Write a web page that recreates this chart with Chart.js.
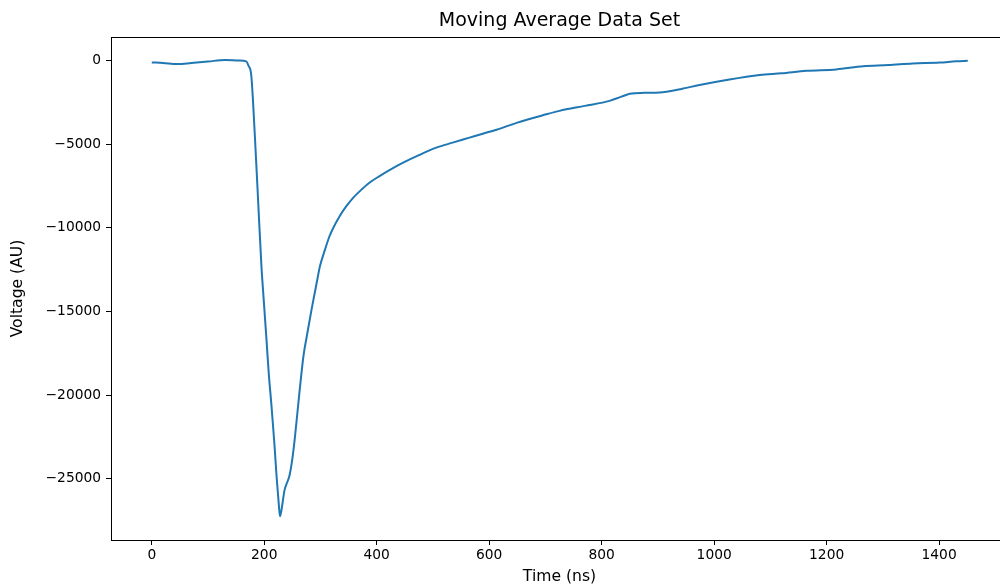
<!DOCTYPE html>
<html>
<head>
<meta charset="utf-8">
<title>Moving Average Data Set</title>
<script src="https://cdn.jsdelivr.net/npm/chart.js@4/dist/chart.umd.min.js"></script>
<style>
  html, body { margin: 0; padding: 0; background: #fff; overflow: hidden; }
  #wrap { width: 1010px; height: 587px; }
</style>
</head>
<body>
<div id="wrap"><canvas id="myChart"></canvas></div>
<script>
// time axis of the averaged trace (ns)
var timeNs = [0, 20, 45, 70, 100, 130, 155, 168, 172, 177, 183, 189, 195, 198, 204, 208, 213, 218, 222, 226,
    228, 231, 236, 241, 245, 250, 254, 263, 270, 275, 284, 294, 299, 308, 316, 322, 334, 346, 358, 370,
    387, 405, 425, 447, 475, 506, 535, 565, 590, 613, 650, 700, 725, 770, 814, 835, 850, 875, 903, 940,
    974, 1022, 1081, 1120, 1164, 1217, 1265, 1310, 1353, 1401, 1430, 1451];

// averaged voltage (AU)
var voltage = [-100, -130, -200, -140, -50, 50, 10, -40, -300, -900, -4300, -8300, -12300, -13800, -16700, -18700, -20700, -22900, -24900, -26600,
    -27250, -26800, -25700, -25200, -24800, -23800, -22700, -19700, -17600, -16600, -14900, -13150, -12300, -11300, -10500, -10050, -9300, -8700, -8200, -7800,
    -7300, -6900, -6500, -6100, -5650, -5200, -4900, -4600, -4350, -4130, -3700, -3220, -3000, -2700, -2400, -2150, -1980, -1920, -1900, -1700,
    -1450, -1150, -850, -750, -600, -520, -330, -260, -160, -110, -30, 0];

var xTicks = [0, 200, 400, 600, 800, 1000, 1200, 1400];
var yTicks = [-25000, -20000, -15000, -10000, -5000, 0];

var tickFont = { family: 'DejaVu Sans', size: 13.8 };
var labelFont = { family: 'DejaVu Sans', size: 15.6 };

// matplotlib style box around the plot area
var frame = {
    id: 'frame',
    afterDraw: function (chart) {
        var a = chart.chartArea, ctx = chart.ctx;
        ctx.save();
        ctx.strokeStyle = '#000';
        ctx.lineWidth = 1;
        ctx.strokeRect(Math.round(a.left) + 0.5, Math.round(a.top) + 0.5, a.right - a.left, a.bottom - a.top);
        ctx.restore();
    }
};

function minusLabel(v) {
    return v < 0 ? '\u2212' + Math.abs(v) : String(v);
}

function renderChart(xs, ys) {
    var ctx = document.getElementById("myChart").getContext('2d');
    var pts = xs.map(function (t, i) { return { x: t, y: ys[i] }; });
    var myChart = new Chart(ctx, {
        type: 'line',
        data: {
            datasets: [{
                data: pts,
                borderColor: '#1f77b4',
                borderWidth: 2,
                pointRadius: 0,
                cubicInterpolationMode: 'monotone',
                fill: false
            }]
        },
        options: {
            responsive: true,
            maintainAspectRatio: false,
            devicePixelRatio: 1,
            animation: false,
            layout: { padding: { left: 0, right: 2, top: 0, bottom: 0 } },
            plugins: {
                legend: { display: false },
                tooltip: { enabled: false },
                title: {
                    display: true,
                    text: 'Moving Average Data Set',
                    fullSize: false,
                    color: '#000',
                    font: { family: 'DejaVu Sans', size: 19, weight: 'normal' },
                    padding: { top: 9.6, bottom: 4.6 }
                }
            },
            scales: {
                x: {
                    type: 'linear',
                    min: -72.5,
                    max: 1522.5,
                    afterFit: function (s) { s.height = 47; },
                    afterBuildTicks: function (s) { s.ticks = xTicks.map(function (v) { return { value: v }; }); },
                    grid: { drawOnChartArea: false, drawTicks: true, tickLength: 5, tickColor: '#000', tickWidth: 1 },
                    border: { display: true, color: '#000', width: 1 },
                    ticks: { color: '#000', font: tickFont, padding: 2, maxRotation: 0, autoSkip: false, callback: minusLabel },
                    title: { display: true, text: 'Time (ns)', color: '#000', font: labelFont, padding: { top: 0, bottom: 0.6 } }
                },
                y: {
                    type: 'linear',
                    min: -28670,
                    max: 1420,
                    afterFit: function (s) { s.width = 111; },
                    afterBuildTicks: function (s) { s.ticks = yTicks.map(function (v) { return { value: v }; }); },
                    grid: { drawOnChartArea: false, drawTicks: true, tickLength: 5, tickColor: '#000', tickWidth: 1 },
                    border: { display: true, color: '#000', width: 1 },
                    ticks: { color: '#000', font: tickFont, padding: 5, autoSkip: false, callback: minusLabel },
                    title: { display: true, text: 'Voltage (AU)', color: '#000', font: labelFont, padding: { top: 8.6, bottom: 0 } }
                }
            }
        },
        plugins: [frame]
    });
    return myChart;
}

renderChart(timeNs, voltage);
</script>
</body>
</html>
